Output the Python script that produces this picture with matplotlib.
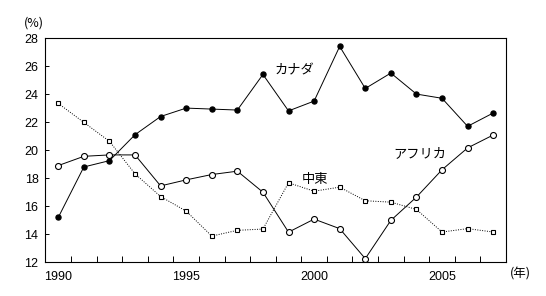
import numpy as np
import matplotlib
matplotlib.use("Agg")
import matplotlib.pyplot as plt

plt.rcParams['font.family'] = ['Liberation Sans', 'Noto Sans CJK JP', 'DejaVu Sans']

years = list(range(1990, 2008))
canada = [15.2, 18.8, 19.25, 21.1, 22.4, 23.0, 22.93, 22.86, 25.4, 22.8,
          23.5, 27.4, 24.4, 25.5, 24.0, 23.7, 21.7, 22.65]
africa = [18.9, 19.56, 19.66, 19.66, 17.45, 17.88, 18.26, 18.5, 17.0, 14.15,
          15.08, 14.4, 12.26, 14.99, 16.65, 18.6, 20.16, 21.08]
mideast = [23.33, 21.98, 20.63, 18.31, 16.69, 15.65, 13.87, 14.28, 14.37, 17.67,
           17.07, 17.36, 16.39, 16.29, 15.77, 14.16, 14.4, 14.16]

fig = plt.figure(figsize=(5.46, 2.96), dpi=100)
ax = fig.add_axes([0.0833, 0.1139, 0.8434, 0.7577])

ax.plot(years, mideast, color='black', lw=0.7, ls=(0, (1, 1.5)),
        marker='s', ms=3.2, mfc='white', mec='black', mew=0.8)
ax.plot(years, africa, color='black', lw=0.7,
        marker='o', ms=4.3, mfc='white', mec='black', mew=0.8)
ax.plot(years, canada, color='black', lw=0.7,
        marker='o', ms=3.6, mfc='black', mec='black')

ax.set_xlim(1989.5, 2007.5)
ax.set_ylim(12, 28)
ax.set_yticks(np.arange(12, 29, 2))
ax.set_xticks([1990, 1995, 2000, 2005])
ax.set_xticks(np.arange(1990.5, 2007, 1), minor=True)
ax.tick_params(axis='x', which='major', length=0, pad=6, labelsize=9)
ax.tick_params(axis='x', which='minor', direction='in', length=4, width=0.7)
ax.tick_params(axis='y', direction='in', length=3, width=0.7, pad=5, labelsize=9)
for s in ax.spines.values():
    s.set_linewidth(0.8)

jp = ['Noto Sans CJK JP', 'DejaVu Sans']
ax.text(1998.45, 25.65, 'カナダ', family=jp, fontsize=9.5, va='center', ha='left')
ax.text(1999.5, 17.9, '中東', family=jp, fontsize=9.5, va='center', ha='left')
ax.text(2003.1, 19.77, 'アフリカ', family=jp, fontsize=9.5, va='center', ha='left')
fig.text(34 / 546, 1 - 23 / 296, '(%)', family=jp, fontsize=9, ha='center', va='center')
fig.text(520 / 546, 1 - 274 / 296, '(年)', family=jp, fontsize=9, ha='center', va='center')

fig.savefig('out.png', dpi=100)
